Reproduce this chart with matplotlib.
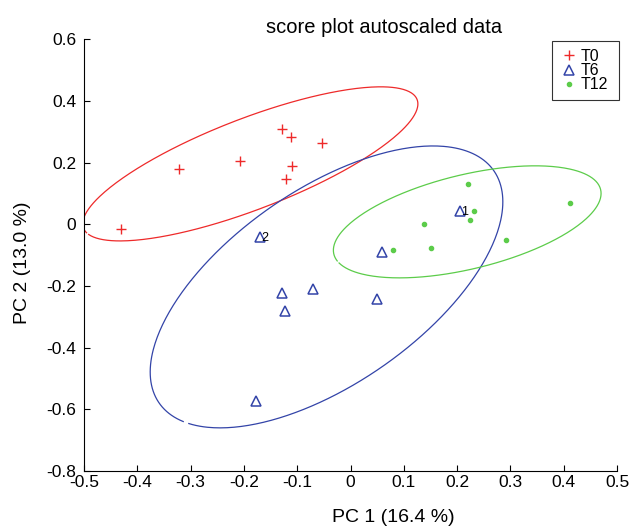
import numpy as np
import matplotlib
matplotlib.use("Agg")
import matplotlib.pyplot as plt

plt.rcParams["font.family"] = ["Liberation Sans", "DejaVu Sans"]

# scores per group (PC1, PC2)
t0_x = [-0.431, -0.321, -0.207, -0.129, -0.112, -0.053, -0.110, -0.121]
t0_y = [-0.016, 0.178, 0.206, 0.309, 0.284, 0.265, 0.189, 0.147]

t6_x = [-0.170, 0.205, 0.059, -0.128, -0.071, 0.049, -0.123, -0.178]
t6_y = [-0.042, 0.043, -0.090, -0.224, -0.211, -0.241, -0.280, -0.574]
t6_labels = ["2", "1", "", "", "", "", "", ""]

t12_x = [0.221, 0.232, 0.225, 0.137, 0.079, 0.151, 0.292, 0.412]
t12_y = [0.131, 0.043, 0.013, 0.001, -0.084, -0.077, -0.052, 0.069]

# confidence ellipses: centre x, centre y, semi-major, semi-minor, angle (deg)
ell_t0 = [-0.188, 0.196, 0.380, 0.130, 36.7]
ell_t6 = [-0.045, -0.203, 0.513, 0.235, 59.3]
ell_t12 = [0.219, 0.008, 0.275, 0.143, 28.5]

red = "#ee2a2a"
blue = "#3344a8"
green = "#5ccc4a"


def ellipse_xy(e, start=181.0, stop=538.0):
    cx, cy, a, b, ang = e
    t = np.radians(np.linspace(start, stop, 400))
    th = np.radians(ang)
    ex = cx + a * np.cos(t) * np.cos(th) - b * np.sin(t) * np.sin(th)
    ey = cy + a * np.cos(t) * np.sin(th) + b * np.sin(t) * np.cos(th)
    return ex, ey


fig = plt.figure(figsize=(6.32, 5.26), dpi=100)
ax = fig.add_axes([84 / 632, 1 - 471 / 526, 533 / 632, 431.7 / 526])

h0, = ax.plot(t0_x, t0_y, "+", color=red, markersize=7, markeredgewidth=1.0, label="T0")
h6, = ax.plot(t6_x, t6_y, "^", color=blue, markerfacecolor="none", markersize=7,
              markeredgewidth=1.1, label="T6")
h12, = ax.plot(t12_x, t12_y, "o", color=green, markersize=3, label="T12")

for x, y, s in zip(t6_x, t6_y, t6_labels):
    if s:
        ax.text(x + 0.002, y - 0.002, s, fontsize=9, va="center", ha="left")

for e, c in [(ell_t0, red), (ell_t6, blue), (ell_t12, green)]:
    ex, ey = ellipse_xy(e)
    ax.plot(ex, ey, color=c, linewidth=0.9)

ax.set_xlim(-0.5, 0.5)
ax.set_ylim(-0.8, 0.6)
ax.set_xticks(np.arange(-0.5, 0.51, 0.1))
ax.set_yticks(np.arange(-0.8, 0.61, 0.2))
ax.set_xticklabels(["-0.5", "-0.4", "-0.3", "-0.2", "-0.1", "0", "0.1", "0.2", "0.3", "0.4", "0.5"])
ax.set_yticklabels(["-0.8", "-0.6", "-0.4", "-0.2", "0", "0.2", "0.4", "0.6"])
ax.tick_params(direction="in", length=4, labelsize=12.5, width=0.8)
ax.tick_params(axis="x", pad=2.7)
ax.tick_params(axis="y", pad=5.5)
ax.spines["top"].set_visible(False)
ax.spines["right"].set_visible(False)
for s in ["left", "bottom"]:
    ax.spines[s].set_linewidth(0.8)

leg = ax.legend(handles=[h0, h6, h12], loc="upper left",
                bbox_to_anchor=(552 / 632, 1 - 97 / 526, 67 / 632, 56 / 526),
                bbox_transform=fig.transFigure, mode="expand",
                fontsize=11.5, frameon=True, fancybox=False, edgecolor="black",
                handlelength=1.1, handletextpad=0.2, borderpad=0.5, labelspacing=-0.05,
                borderaxespad=0.0)
leg.get_frame().set_linewidth(0.8)

fig.text(384.5 / 632, 1 - 33 / 526, "score plot autoscaled data", fontsize=14.5,
         ha="center", va="baseline")
fig.text(393 / 632, 1 - 517 / 526, "PC 1 (16.4 %)", fontsize=14, ha="center", va="center")
fig.text(23 / 632, 1 - 262.5 / 526, "PC 2 (13.0 %)", fontsize=14, ha="center", va="center",
         rotation=90)

fig.savefig("out.png", dpi=100)
